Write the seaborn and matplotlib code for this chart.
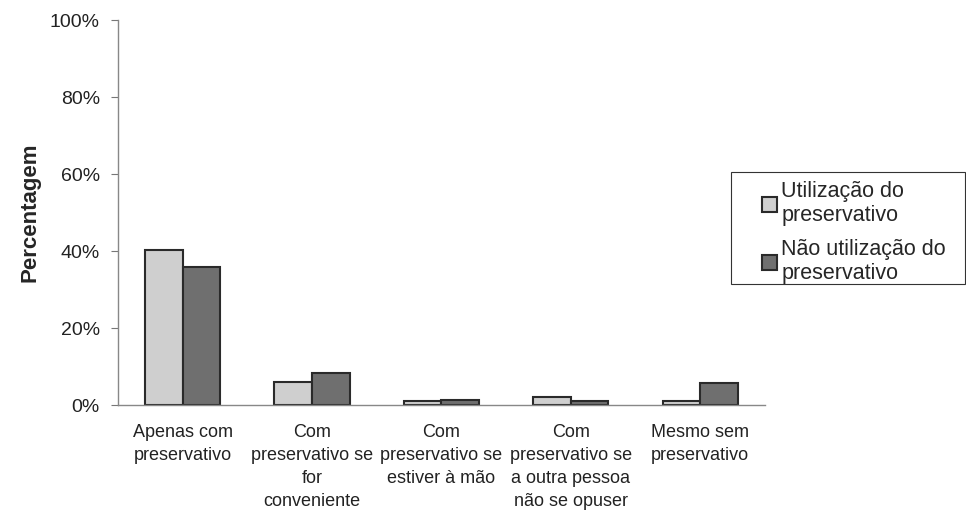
import pandas as pd
import numpy as np
import matplotlib.pyplot as plt
import matplotlib.patches as mpatches
import seaborn as sns

categorias = ['Apenas com\npreservativo',
              'Com\npreservativo se\nfor\nconveniente',
              'Com\npreservativo se\nestiver à mão',
              'Com\npreservativo se\na outra pessoa\nnão se opuser',
              'Mesmo sem\npreservativo']
utilizacao = [40.3, 5.9, 1.0, 2.0, 1.1]
nao_utilizacao = [35.9, 8.2, 1.4, 1.1, 5.7]
series = ['Utilização do\npreservativo', 'Não utilização do\npreservativo']
yticks = [0, 20, 40, 60, 80, 100]

df = pd.DataFrame({'Categoria': categorias * 2,
                   'Valor': utilizacao + nao_utilizacao,
                   'Serie': [series[0]] * len(categorias) + [series[1]] * len(categorias)})

sns.set_style('white')
plt.rcParams['font.family'] = ['Liberation Sans', 'DejaVu Sans']

fig = plt.figure(figsize=(9.66, 5.13), dpi=100)
ax = fig.add_axes([0.122, 0.2105, 0.670, 0.7505])
sns.barplot(data=df, x='Categoria', y='Valor', hue='Serie', palette=['#cfcfcf', '#6f6f6f'],
            width=0.58, edgecolor='#2a2a2a', linewidth=1.5, saturation=1, ax=ax)

ax.set_ylim(0, 100)
ax.set_xlim(-0.5, len(categorias) - 0.5)
ax.set_yticks(yticks)
ax.set_yticklabels([f'{v}%' for v in yticks], fontsize=14, color='#222222')
ax.set_xticks(range(len(categorias)))
ax.set_xticklabels(categorias, fontsize=13, color='#222222', linespacing=1.45)
ax.tick_params(axis='x', which='major', length=0, pad=14)
ax.set_xticks(np.arange(-0.5, len(categorias)), minor=True)
ax.tick_params(axis='x', which='minor', length=5, color='#777777', direction='out')
ax.tick_params(axis='y', length=5, color='#777777', direction='out', left=True, pad=8)
ax.set_xlabel('')
ax.set_ylabel('Percentagem', fontsize=16, fontweight='bold', labelpad=7)
sns.despine(ax=ax)
for s in ['left', 'bottom']:
    ax.spines[s].set_color('#888888')
    ax.spines[s].set_linewidth(1)

# legenda sem moldura + moldura desenhada a parte
leg = ax.legend(loc='upper left', bbox_to_anchor=(762 / 966, 1 - 181 / 513), bbox_transform=fig.transFigure,
                fontsize=15.5, frameon=False,
                handlelength=0.7, handleheight=0.7, handletextpad=0.2, labelspacing=0.6,
                borderpad=0, borderaxespad=0)
for t in leg.get_texts():
    t.set_linespacing(1.2)
fig.patches.append(mpatches.Rectangle((731 / 966, 1 - 284 / 513), 234 / 966, 112 / 513,
                                      transform=fig.transFigure, fill=False,
                                      edgecolor='#333333', linewidth=0.8))

plt.savefig('out.png', dpi=100)
